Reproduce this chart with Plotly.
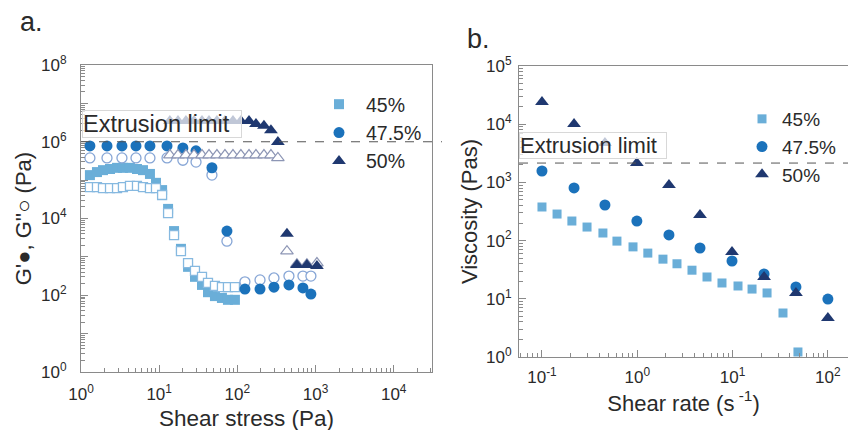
import plotly.graph_objects as go

# ---------------- Panel a: oscillatory stress sweep ----------------
stress_45 = [1.30, 1.60, 1.91, 2.35, 2.89, 3.44, 4.23, 5.20, 6.21, 7.62, 9.10, 10.9,
             13.0, 15.5, 19.0, 23.4, 28.7, 35.3, 42.1, 51.7, 63.5, 75.8, 93.1]
gp_45 = [1.35e5, 1.62e5, 1.82e5, 1.95e5, 2.09e5, 2.09e5, 2.09e5, 1.95e5, 1.82e5, 1.45e5,
         8.5e4, 5.5e4, 1.78e4, 4.7e3, 1.62e3, 550, 302, 186, 120, 95, 85, 76, 76]
gpp_45 = [6.6e4, 6.6e4, 6.2e4, 6.2e4, 6.2e4, 6.6e4, 7.1e4, 7.1e4, 6.6e4, 6.2e4,
          6.2e4, 4.1e4, 1.38e4, 3.7e3, 1.41e3, 690, 430, 300, 210, 175, 162, 162, 162]

stress_475 = [1.30, 2.15, 3.34, 5.05, 7.62, 12.6, 20.1, 29.6, 47.3, 73.6,
              125, 195, 294, 457, 690, 873]
gp_475 = [7.8e5, 7.8e5, 7.8e5, 7.8e5, 7.8e5, 7.8e5, 6.9e5, 5.8e5, 2.1e5, 4.7e3,
          145, 145, 162, 186, 155, 107]
gpp_475 = [3.8e5, 3.8e5, 3.8e5, 3.8e5, 3.8e5, 3.8e5, 3.3e5, 2.95e5, 1.35e5, 2.57e3,
           224, 251, 282, 316, 316, 316]

stress_50 = [13.7, 17.4, 22.0, 27.9, 35.3, 43.4, 54.8, 69.4, 87.9, 111, 141, 173,
             219, 269, 330, 431, 578, 776, 1042]
gp_50 = [3.47e6, 3.47e6, 3.47e6, 3.47e6, 3.47e6, 3.47e6, 3.47e6, 3.47e6, 3.47e6, 3.47e6,
         3.47e6, 2.9e6, 2.6e6, 2.0e6, 9.8e5, 4.0e3, 617, 617, 575]
gpp_50 = [4.5e5, 4.5e5, 4.5e5, 4.5e5, 4.5e5, 4.5e5, 4.5e5, 4.5e5, 4.5e5, 4.5e5,
          4.5e5, 4.5e5, 4.5e5, 4.5e5, 3.8e5, 1.41e3, 646, 646, 690]

extrusion_limit_a = 1e6

# ---------------- Panel b: viscosity vs shear rate ----------------
rate_45 = [0.100, 0.144, 0.206, 0.297, 0.436, 0.612, 0.902, 1.29, 1.86, 2.61, 3.75,
           5.39, 7.74, 11.4, 16.0, 23.0, 33.8, 48.5]
visc_45 = [378, 286, 217, 171, 135, 98, 78, 61, 48, 40, 31, 23.7, 18.7, 16.6, 14.7,
           12.6, 5.7, 1.22]

rate_475 = [0.1, 0.217, 0.458, 0.99, 2.15, 4.55, 9.86, 21.4, 46.2, 100]
visc_475 = [1570, 802, 409, 217, 125, 74.6, 44.6, 26.7, 16.0, 9.9]

rate_50 = [0.1, 0.217, 0.458, 0.99, 2.15, 4.55, 9.86, 21.4, 46.2, 100]
visc_50 = [24000, 10070, 4750, 2150, 902, 275, 63.7, 23.7, 12.6, 4.68]

extrusion_limit_b = 2150

series_names = ["45%", "47.5%", "50%"]

# tick labels
a_x_ticks = [0, 1, 2, 3, 4]
a_y_ticks = [0, 1, 2, 3, 4, 5, 6, 7, 8]
a_y_labeled = [0, 2, 4, 6, 8]
b_x_ticks = [-1, 0, 1, 2]
b_y_ticks = [0, 1, 2, 3, 4, 5]

C45 = "#6aaed8"
C475 = "#1b72bb"
C50 = "#1f3870"
C45_O = "#86b9e0"
C475_O = "#87a6d6"
C50_O = "#8d96b5"

FONT = "Liberation Sans, Arial, sans-serif"
TXT = "#2a2a2a"
AXC = "#8a8a8a"


def sup_label(e):
    return "10<sup>%d</sup>" % e


def minor_vals(lo, hi):
    vals = []
    for d in range(lo, hi):
        for k in range(2, 10):
            vals.append(k * 10.0 ** d)
    return vals


fig = go.Figure()

# panel a traces
fig.add_trace(go.Scatter(x=stress_45, y=gp_45, mode="markers", name=series_names[0],
                         marker=dict(symbol="square", size=10, color=C45, line=dict(width=0)),
                         xaxis="x", yaxis="y", legend="legend"))
fig.add_trace(go.Scatter(x=stress_45, y=gpp_45, mode="markers", showlegend=False,
                         marker=dict(symbol="square", size=9, color="white",
                                     line=dict(width=1.3, color=C45_O)),
                         xaxis="x", yaxis="y"))
fig.add_trace(go.Scatter(x=stress_475, y=gpp_475, mode="markers", showlegend=False,
                         marker=dict(symbol="circle", size=10, color="white",
                                     line=dict(width=1.3, color=C475_O)),
                         xaxis="x", yaxis="y"))
fig.add_trace(go.Scatter(x=stress_475, y=gp_475, mode="markers", name=series_names[1],
                         marker=dict(symbol="circle", size=11, color=C475, line=dict(width=0)),
                         xaxis="x", yaxis="y", legend="legend"))
fig.add_trace(go.Scatter(x=stress_50, y=gpp_50, mode="markers", showlegend=False,
                         marker=dict(symbol="triangle-up", size=11, color="white",
                                     line=dict(width=1.2, color=C50_O)),
                         xaxis="x", yaxis="y"))
fig.add_trace(go.Scatter(x=stress_50, y=gp_50, mode="markers", name=series_names[2],
                         marker=dict(symbol="triangle-up", size=12, color=C50, line=dict(width=0)),
                         xaxis="x", yaxis="y", legend="legend"))

# panel b traces
fig.add_trace(go.Scatter(x=rate_45, y=visc_45, mode="markers", name=series_names[0],
                         marker=dict(symbol="square", size=9, color=C45, line=dict(width=0)),
                         xaxis="x2", yaxis="y2", legend="legend2"))
fig.add_trace(go.Scatter(x=rate_475, y=visc_475, mode="markers", name=series_names[1],
                         marker=dict(symbol="circle", size=11, color=C475, line=dict(width=0)),
                         xaxis="x2", yaxis="y2", legend="legend2"))
fig.add_trace(go.Scatter(x=rate_50, y=visc_50, mode="markers", name=series_names[2],
                         marker=dict(symbol="triangle-up", size=12, color=C50, line=dict(width=0)),
                         xaxis="x2", yaxis="y2", legend="legend2"))

W, H = 848, 430


def px(v):
    return v / W


def py(v):
    return 1 - v / H


axis_common = dict(type="log", showgrid=False, zeroline=False, showline=True,
                   linecolor=AXC, linewidth=1, ticks="inside", ticklen=7,
                   tickcolor=AXC, tickwidth=1, automargin=False,
                   tickfont=dict(family=FONT, size=17, color=TXT),
                   title_font=dict(family=FONT, size=22, color=TXT))

fig.update_layout(
    width=W, height=H, margin=dict(l=0, r=0, t=0, b=0),
    paper_bgcolor="white", plot_bgcolor="white",
    font=dict(family=FONT, color=TXT),
    xaxis=dict(axis_common, domain=[px(81), px(432)], range=[0, 4.49], anchor="y",
               mirror=True, tickmode="array",
               tickvals=[10 ** e for e in a_x_ticks], ticktext=[sup_label(e) for e in a_x_ticks],
               minor=dict(ticks="inside", ticklen=4, tickcolor=AXC, tickmode="array",
                          tickvals=minor_vals(0, 5)),
               ticklabelstandoff=7),
    yaxis=dict(axis_common, domain=[py(372), py(65)], range=[0, 8], anchor="x",
               mirror=True, tickmode="array",
               tickvals=[10 ** e for e in a_y_ticks],
               ticktext=[sup_label(e) if e in a_y_labeled else "" for e in a_y_ticks],
               minor=dict(ticks="inside", ticklen=4, tickcolor=AXC, tickmode="array",
                          tickvals=minor_vals(0, 8)),
               title=dict(text="G'●, G''○ (Pa)", standoff=3), ticklabelstandoff=10),
    xaxis2=dict(axis_common, domain=[px(519), 1.0], range=[-1.241, 2.211], anchor="y2",
                mirror=True, tickmode="array",
                tickvals=[10 ** e for e in b_x_ticks], ticktext=[sup_label(e) for e in b_x_ticks],
                minor=dict(ticks="inside", ticklen=4, tickcolor=AXC, tickmode="array",
                           tickvals=minor_vals(-2, 3)),
                title=dict(text="Shear rate (s<sup> -1</sup>)", standoff=7), ticklabelstandoff=5),
    yaxis2=dict(axis_common, domain=[py(357), py(66)], range=[0, 5], anchor="x2",
                mirror=False, tickmode="array",
                tickvals=[10 ** e for e in b_y_ticks], ticktext=[sup_label(e) for e in b_y_ticks],
                minor=dict(ticks="inside", ticklen=4, tickcolor=AXC, tickmode="array",
                           tickvals=minor_vals(0, 5)),
                title=dict(text="Viscosity (Pas)", standoff=2), ticklabelstandoff=3),
    legend=dict(x=px(312), y=py(85), xanchor="left", yanchor="top",
                bgcolor="rgba(0,0,0,0)", itemwidth=44,
                font=dict(family=FONT, size=19.5, color=TXT)),
    legend2=dict(x=px(742), y=py(100), xanchor="left", yanchor="top",
                 bgcolor="rgba(0,0,0,0)", itemwidth=30,
                 font=dict(family=FONT, size=19, color=TXT)),
)

# panel a x-axis title (placed slightly left of centre as in the original)
fig.add_annotation(text="Shear stress (Pa)", xref="paper", yref="paper",
                   x=px(247), y=py(418), xanchor="center", yanchor="middle", showarrow=False,
                   font=dict(family=FONT, size=22.5, color=TXT))

# extrusion limit dashed lines
fig.add_shape(type="line", xref="paper", yref="y", x0=px(81), x1=px(442),
              y0=extrusion_limit_a, y1=extrusion_limit_a,
              line=dict(color="#555555", width=1, dash="dash"))
fig.add_shape(type="line", xref="paper", yref="y2", x0=px(519), x1=1.0,
              y0=extrusion_limit_b, y1=extrusion_limit_b,
              line=dict(color="#555555", width=1, dash="dash"))

fig.add_annotation(text="Extrusion limit", xref="paper", yref="paper",
                   x=px(82), y=py(110), xanchor="left", yanchor="top", showarrow=False,
                   font=dict(family=FONT, size=23.5, color=TXT),
                   bgcolor="rgba(255,255,255,0.72)", bordercolor="#d8d8d8", borderwidth=1,
                   borderpad=0, width=158, align="left")
fig.add_annotation(text="Extrusion limit", xref="paper", yref="paper",
                   x=px(519), y=py(132), xanchor="left", yanchor="top", showarrow=False,
                   font=dict(family=FONT, size=22, color=TXT),
                   bgcolor="rgba(255,255,255,0.72)", bordercolor="#d8d8d8", borderwidth=1,
                   borderpad=0, width=146, align="left")

fig.add_annotation(text="a.", xref="paper", yref="paper", x=px(18), y=py(22),
                   xanchor="left", yanchor="middle", showarrow=False,
                   font=dict(family=FONT, size=27, color=TXT))
fig.add_annotation(text="b.", xref="paper", yref="paper", x=px(465), y=py(39),
                   xanchor="left", yanchor="middle", showarrow=False,
                   font=dict(family=FONT, size=27, color=TXT))

fig.write_html("out.html")
